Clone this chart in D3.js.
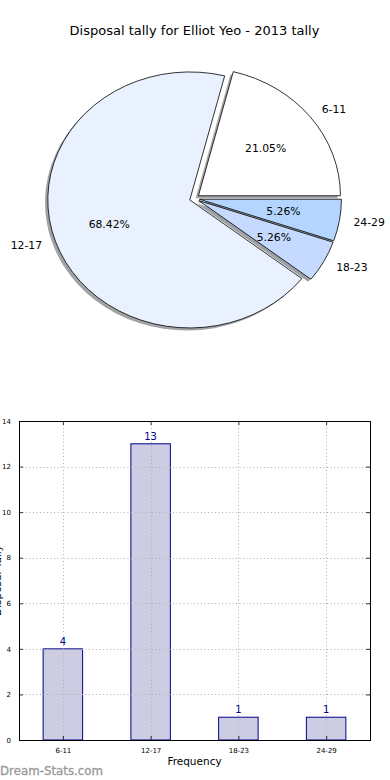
<!DOCTYPE html>
<html>
<head>
<meta charset="utf-8">
<script src="https://cdn.jsdelivr.net/npm/d3@7"></script>
<style>
  html, body { margin: 0; padding: 0; background: #fff; }
  svg { display: block; font-family: "DejaVu Sans", sans-serif; }
</style>
</head>
<body>
<svg id="chart" width="390" height="780"></svg>
<script>
const title = "Disposal tally for Elliot Yeo - 2013 tally";
const categories = ["6-11", "12-17", "18-23", "24-29"];
const counts = [4, 13, 1, 1];
const pieColors = ["#ffffff", "#eaf1fe", "#c6daff", "#b3d5ff"];
const yTicks = [0, 2, 4, 6, 8, 10, 12, 14];
const xLabel = "Frequency";
const yLabel = "Disposal Tally";
const watermark = "Dream-Stats.com";

(function () {
const svg = d3.select("#chart");

svg.append("text").attr("x", 194.5).attr("y", 30).attr("text-anchor", "middle")
  .attr("dominant-baseline", "central").attr("font-size", 13).attr("fill", "#000").text(title);

// ---------- Pie ----------
const cx = 194.5, cy = 198.5, rx = 142, ry = 128, R = 100, explode = 0.035;
const total = d3.sum(counts);
const pie = d3.pie().sort(null).value(d => d)
  .startAngle(Math.PI / 2).endAngle(Math.PI / 2 - 2 * Math.PI);
const arcs = pie(counts);
const arc = d3.arc().innerRadius(0).outerRadius(R);

function offset(a) {
  const mid = (a.startAngle + a.endAngle) / 2;
  return [Math.sin(mid), -Math.cos(mid)];
}

const pieG = svg.append("g");
arcs.forEach((a, i) => {
  const [dx, dy] = offset(a);
  const ox = cx + explode * rx * dx - 2.8, oy = cy + explode * ry * dy + 2.6;
  const c = d3.rgb(pieColors[i]);
  pieG.append("path")
    .attr("transform", `translate(${ox},${oy}) scale(${rx / R},${ry / R})`)
    .attr("d", arc(a))
    .attr("fill", d3.rgb(c.r * 0.3, c.g * 0.3, c.b * 0.3))
    .attr("fill-opacity", 0.5);
});
arcs.forEach((a, i) => {
  const [dx, dy] = offset(a);
  const ox = cx + explode * rx * dx, oy = cy + explode * ry * dy;
  pieG.append("path")
    .attr("transform", `translate(${ox},${oy}) scale(${rx / R},${ry / R})`)
    .attr("d", arc(a))
    .attr("fill", pieColors[i])
    .attr("stroke", "#000").attr("stroke-width", 0.8)
    .attr("vector-effect", "non-scaling-stroke")
    .attr("stroke-linejoin", "miter");
});
arcs.forEach((a, i) => {
  const [dx, dy] = offset(a);
  const ox = cx + explode * rx * dx, oy = cy + explode * ry * dy;
  pieG.append("text")
    .attr("x", ox + 1.1 * rx * dx).attr("y", oy + 1.1 * ry * dy)
    .attr("text-anchor", dx > 0 ? "start" : "end")
    .attr("dominant-baseline", "central")
    .attr("font-size", 10.8).text(categories[i]);
  pieG.append("text")
    .attr("x", ox + 0.6 * rx * dx).attr("y", oy + 0.6 * ry * dy)
    .attr("text-anchor", "middle")
    .attr("dominant-baseline", "central")
    .attr("font-size", 10.8).text((counts[i] / total * 100).toFixed(2) + "%");
});

// ---------- Bar chart ----------
const pl = 19, pr = 370, pt = 421, pb = 740;
const x = d3.scaleLinear().domain([-0.5, 3.5]).range([pl, pr]);
const y = d3.scaleLinear().domain([0, 14]).range([pb, pt]);
const bw = 0.45;
const barG = svg.append("g");

barG.selectAll("rect.bar").data(counts).enter().append("rect")
  .attr("class", "bar")
  .attr("x", (d, i) => x(i - bw / 2))
  .attr("width", x(bw) - x(0))
  .attr("y", d => y(d))
  .attr("height", d => y(0) - y(d))
  .attr("fill", "#ccccE3")
  .attr("stroke", "#00008b").attr("stroke-width", 1);

const gridG = barG.append("g").attr("stroke", "#b0b0b0").attr("stroke-width", 1)
  .attr("stroke-dasharray", "1,2.5");
yTicks.forEach(t => {
  gridG.append("line").attr("x1", pl).attr("x2", pr)
    .attr("y1", Math.round(y(t)) + 0.5).attr("y2", Math.round(y(t)) + 0.5);
});
categories.forEach((c, i) => {
  gridG.append("line").attr("y1", pt).attr("y2", pb)
    .attr("x1", Math.round(x(i)) + 0.5).attr("x2", Math.round(x(i)) + 0.5);
});

const yAxisL = d3.axisLeft(y).tickValues(yTicks).tickSizeInner(-4).tickSizeOuter(0).tickPadding(8);
const yAxisR = d3.axisRight(y).tickValues(yTicks).tickSizeInner(-4).tickSizeOuter(0).tickFormat("");
const xAxisB = d3.axisBottom(x).tickValues([0, 1, 2, 3]).tickFormat(i => categories[i])
  .tickSizeInner(-4).tickSizeOuter(0).tickPadding(8);
const xAxisT = d3.axisTop(x).tickValues([0, 1, 2, 3]).tickFormat("")
  .tickSizeInner(-4).tickSizeOuter(0);

function styleAxis(g) {
  g.select(".domain").remove();
  g.selectAll(".tick line").attr("stroke", "#000").attr("stroke-width", 0.8);
  g.selectAll("text").attr("font-size", 7).attr("fill", "#000")
    .attr("font-family", "DejaVu Sans, sans-serif");
}
barG.append("g").attr("transform", `translate(${pl},0)`).call(yAxisL).call(styleAxis);
barG.append("g").attr("transform", `translate(${pr},0)`).call(yAxisR).call(styleAxis);
barG.append("g").attr("transform", `translate(0,${pb})`).call(xAxisB).call(styleAxis);
barG.append("g").attr("transform", `translate(0,${pt})`).call(xAxisT).call(styleAxis);

barG.append("rect").attr("x", pl + 0.5).attr("y", pt + 0.5)
  .attr("width", pr - pl).attr("height", pb - pt)
  .attr("fill", "none").attr("stroke", "#000").attr("stroke-width", 1);

barG.selectAll("text.val").data(counts).enter().append("text")
  .attr("class", "val")
  .attr("x", (d, i) => x(i)).attr("y", d => y(d) - 4)
  .attr("text-anchor", "middle").attr("font-size", 10).attr("fill", "#00008b")
  .text(d => d);

svg.append("text").attr("x", 194.5).attr("y", 761).attr("text-anchor", "middle")
  .attr("dominant-baseline", "central").attr("font-size", 10.5).text(xLabel);
svg.append("text").attr("transform", `translate(1,${(pt + pb) / 2}) rotate(-90)`)
  .attr("text-anchor", "middle").attr("font-size", 10.5).text(yLabel);

svg.append("text").attr("x", 0).attr("y", 775).attr("font-size", 11.8)
  .attr("fill", "#999999").attr("stroke", "#999999").attr("stroke-width", 0.3)
  .text(watermark);
})();
</script>
</body>
</html>
